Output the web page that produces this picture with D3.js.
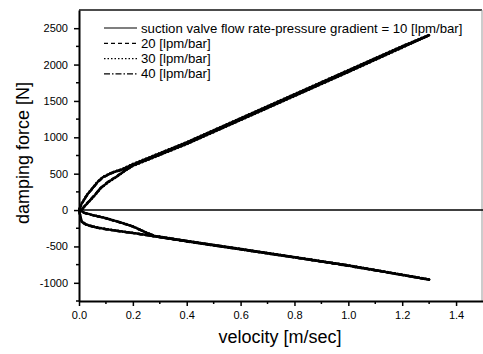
<!DOCTYPE html>
<html>
<head>
<meta charset="utf-8">
<script src="https://cdn.jsdelivr.net/npm/d3@7"></script>
<style>
  body { margin: 0; background: #fff; }
  svg { display: block; font-family: "Liberation Sans", Arial, sans-serif; }
</style>
</head>
<body>
<div id="chart"></div>
<script>
// tick values
const xTicks = [0, 0.2, 0.4, 0.6, 0.8, 1.0, 1.2, 1.4];
const yTicks = [-1000, -500, 0, 500, 1000, 1500, 2000, 2500];

// legend labels
const seriesLabels = [
  "suction valve flow rate-pressure gradient = 10 [lpm/bar]",
  "20 [lpm/bar]",
  "30 [lpm/bar]",
  "40 [lpm/bar]"
];
const seriesDash = ["none", "4,3", "1.5,2", "6,2,1.5,2"];

// [velocity m/s, force N] loops, compression (upper) then rebound (lower)
const upper10 = [[0,0],[0.01,90],[0.03,210],[0.05,300],[0.07,390],[0.09,455],[0.12,510],[0.16,560],[0.2,630],[0.4,930],[0.6,1260],[0.8,1590],[1.0,1920],[1.2,2250],[1.3,2405],
  [1.2,2235],[1.0,1900],[0.8,1570],[0.6,1240],[0.4,910],[0.2,610],[0.17,540],[0.14,460],[0.11,390],[0.08,300],[0.06,210],[0.04,130],[0.02,50],[0.01,0]];
const lower10 = [[0,0],[0.005,-80],[0.01,-160],[0.03,-205],[0.06,-235],[0.1,-262],[0.15,-290],[0.2,-315],[0.28,-360],[0.4,-430],[0.6,-540],[0.8,-650],[1.0,-765],[1.2,-890],[1.3,-955],
  [1.0,-760],[0.6,-535],[0.4,-425],[0.28,-355],[0.25,-310],[0.2,-225],[0.15,-165],[0.1,-112],[0.05,-68],[0.02,-38],[0,0]];

const upper20 = [[0,0],[0.01,85],[0.03,205],[0.05,295],[0.07,385],[0.09,450],[0.12,505],[0.16,555],[0.2,625],[0.4,925],[0.6,1255],[0.8,1585],[1.0,1915],[1.2,2245],[1.3,2400],
  [1.2,2240],[1.0,1905],[0.8,1575],[0.6,1245],[0.4,915],[0.2,615],[0.17,545],[0.14,465],[0.11,395],[0.08,305],[0.06,215],[0.04,135],[0.02,55],[0.01,0]];
const lower20 = [[0,0],[0.005,-85],[0.01,-165],[0.03,-210],[0.06,-238],[0.1,-265],[0.15,-293],[0.2,-318],[0.28,-362],[0.4,-432],[0.6,-542],[0.8,-652],[1.0,-768],[1.2,-893],[1.3,-958],
  [1.0,-762],[0.6,-537],[0.4,-427],[0.28,-357],[0.25,-312],[0.2,-228],[0.15,-168],[0.1,-115],[0.05,-70],[0.02,-40],[0,0]];

const upper30 = [[0,0],[0.01,95],[0.03,215],[0.05,305],[0.07,395],[0.09,460],[0.12,515],[0.16,565],[0.2,635],[0.4,935],[0.6,1265],[0.8,1595],[1.0,1925],[1.2,2255],[1.3,2410],
  [1.2,2230],[1.0,1895],[0.8,1565],[0.6,1235],[0.4,905],[0.2,605],[0.17,535],[0.14,455],[0.11,385],[0.08,295],[0.06,205],[0.04,125],[0.02,45],[0.01,0]];
const lower30 = [[0,0],[0.005,-75],[0.01,-155],[0.03,-200],[0.06,-232],[0.1,-259],[0.15,-287],[0.2,-312],[0.28,-358],[0.4,-428],[0.6,-538],[0.8,-648],[1.0,-762],[1.2,-887],[1.3,-952],
  [1.0,-758],[0.6,-533],[0.4,-423],[0.28,-353],[0.25,-308],[0.2,-222],[0.15,-162],[0.1,-109],[0.05,-66],[0.02,-36],[0,0]];

const upper40 = [[0,0],[0.01,88],[0.03,208],[0.05,298],[0.07,388],[0.09,453],[0.12,508],[0.16,558],[0.2,628],[0.4,928],[0.6,1258],[0.8,1588],[1.0,1918],[1.2,2248],[1.3,2402],
  [1.2,2238],[1.0,1902],[0.8,1572],[0.6,1242],[0.4,912],[0.2,612],[0.17,542],[0.14,462],[0.11,392],[0.08,302],[0.06,212],[0.04,132],[0.02,52],[0.01,0]];
const lower40 = [[0,0],[0.005,-82],[0.01,-162],[0.03,-207],[0.06,-236],[0.1,-263],[0.15,-291],[0.2,-316],[0.28,-361],[0.4,-431],[0.6,-541],[0.8,-651],[1.0,-766],[1.2,-891],[1.3,-956],
  [1.0,-761],[0.6,-536],[0.4,-426],[0.28,-356],[0.25,-311],[0.2,-226],[0.15,-166],[0.1,-113],[0.05,-69],[0.02,-39],[0,0]];

// zero force line
const zeroLine = [[0,0],[1.5,0]];

const series = [
  [upper10, lower10],
  [upper20, lower20],
  [upper30, lower30],
  [upper40, lower40]
];

const W = 483, H = 354;
const margin = { top: 10, right: 0, bottom: 53, left: 79 };

const svg = d3.select("#chart").append("svg")
  .attr("width", W)
  .attr("height", H);

const x = d3.scaleLinear().domain([0, 1.5]).range([margin.left, 483]);
const y = d3.scaleLinear().domain([-1250, 2750]).range([H - margin.bottom, margin.top]);

// frame (top and right thinner)
svg.append("line")
  .attr("x1", margin.left).attr("x2", 482)
  .attr("y1", margin.top).attr("y2", margin.top)
  .attr("stroke", "#111").attr("stroke-width", 1.5);
svg.append("line")
  .attr("x1", 482).attr("x2", 482)
  .attr("y1", margin.top).attr("y2", y(-1250))
  .attr("stroke", "#999").attr("stroke-width", 1);

// minor ticks
const xMinor = d3.range(0.1, 1.5, 0.2);
const yMinor = d3.range(-1250, 2750, 500);

const xAxis = d3.axisBottom(x)
  .tickValues(xTicks)
  .tickFormat(d3.format(".1f"))
  .tickSize(5)
  .tickPadding(5)
  .tickSizeOuter(0);
const xAxisG = svg.append("g")
  .attr("transform", `translate(0,${y(-1250)})`)
  .call(xAxis);
xAxisG.select(".domain").attr("stroke-width", 2);
xAxisG.selectAll(".tick line").attr("stroke-width", 1.5);
xAxisG.selectAll("text").attr("font-size", 11).attr("fill", "#000");
xAxisG.selectAll(".minor")
  .data(xMinor)
  .join("line")
  .attr("x1", d => x(d)).attr("x2", d => x(d))
  .attr("y1", 0).attr("y2", 3)
  .attr("stroke", "#000").attr("stroke-width", 1.5);

const yAxis = d3.axisLeft(y)
  .tickValues(yTicks)
  .tickFormat(d => String(d))
  .tickSize(5)
  .tickPadding(6)
  .tickSizeOuter(0);
const yAxisG = svg.append("g")
  .attr("transform", `translate(${margin.left},0)`)
  .call(yAxis);
yAxisG.select(".domain").attr("stroke-width", 2);
yAxisG.selectAll(".tick line").attr("stroke-width", 1.5);
yAxisG.selectAll("text").attr("font-size", 11).attr("fill", "#000");
yAxisG.selectAll(".minor")
  .data(yMinor)
  .join("line")
  .attr("x1", 0).attr("x2", -3)
  .attr("y1", d => y(d)).attr("y2", d => y(d))
  .attr("stroke", "#000").attr("stroke-width", 1.5);

// axis titles
svg.append("text")
  .attr("x", 280).attr("y", 343)
  .attr("text-anchor", "middle")
  .attr("font-size", 18)
  .text("velocity [m/sec]");
svg.append("text")
  .attr("transform", "translate(29,153) rotate(-90)")
  .attr("text-anchor", "middle")
  .attr("font-size", 18)
  .text("damping force [N]");

const line = d3.line()
  .x(d => x(d[0]))
  .y(d => y(d[1]));

// zero line
svg.append("path")
  .datum(zeroLine)
  .attr("d", line)
  .attr("fill", "none")
  .attr("stroke", "#000")
  .attr("stroke-width", 1.5);

// curves
series.forEach((branches, i) => {
  branches.forEach(pts => {
    svg.append("path")
      .datum(pts)
      .attr("d", line)
      .attr("fill", "none")
      .attr("stroke", "#000")
      .attr("stroke-width", 2.3)
      .attr("stroke-linejoin", "round")
      .attr("stroke-dasharray", seriesDash[i]);
  });
});

// legend
const legend = svg.append("g");
seriesLabels.forEach((label, i) => {
  const ly = 28 + i * 15.3;
  legend.append("line")
    .attr("x1", 104).attr("x2", 137)
    .attr("y1", ly).attr("y2", ly)
    .attr("stroke", "#000")
    .attr("stroke-width", 1.2)
    .attr("stroke-dasharray", seriesDash[i]);
  legend.append("text")
    .attr("x", 141).attr("y", ly + 4.5)
    .attr("font-size", 13.2)
    .text(label);
});
</script>
</body>
</html>
